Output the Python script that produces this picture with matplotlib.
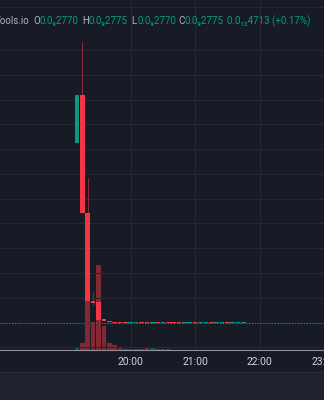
#!/usr/bin/env python3
"""
TradingView-style 5 minute candle chart (dark theme) of a token pump and dump.
Prices are in units of 1e-13, times are minutes after midnight.
"""

import matplotlib.pyplot as plt
import matplotlib.patches as mpatches
from matplotlib.lines import Line2D
from matplotlib.ticker import FuncFormatter
import numpy as np

plt.rcParams['font.family'] = ['Roboto', 'DejaVu Sans']

# ---- data -------------------------------------------------------------
start_minute = 19 * 60 + 10          # first candle 19:10
bar_minutes = 5
n_bars = 32                          # 19:10 ... 21:45

opens = [23086, 28510, 15142, 5266, 5119, 3164, 3006, 2893,
         2780, 2780, 2770, 2770, 2780, 2780, 2770, 2780,
         2770, 2780, 2780, 2780, 2770, 2770, 2780, 2770,
         2770, 2780, 2770, 2770, 2780, 2770, 2770, 2770]
closes = [28510, 15142, 5266, 4972, 3085, 2938, 2859, 2780,
          2770, 2770, 2775, 2775, 2770, 2770, 2775, 2770,
          2775, 2770, 2770, 2770, 2775, 2775, 2770, 2775,
          2775, 2770, 2775, 2775, 2770, 2775, 2775, 2775]
highs = [28510, 34533, 19165, 6283, 5119, 3164, 3006, 2893,
         2780, 2780, 2775, 2775, 2780, 2780, 2775, 2780,
         2775, 2780, 2780, 2780, 2775, 2775, 2780, 2775,
         2775, 2780, 2775, 2775, 2780, 2775, 2775, 2775]
lows = [23086, 15142, 5266, 4780, 3085, 2938, 2859, 2780,
        2770, 2770, 2770, 2770, 2770, 2770, 2770, 2770,
        2770, 2770, 2770, 2770, 2770, 2770, 2770, 2770,
        2770, 2770, 2770, 2770, 2770, 2770, 2770, 2770]
volumes = [23, 67, 693, 277, 850, 240, 67, 47,
           20, 8, 6, 10, 15, 20, 20, 12,
           12, 10, 4, 4, 4, 4, 4, 4,
           4, 4, 4, 4, 4, 4, 4, 4]

hour_ticks = [20 * 60, 21 * 60, 22 * 60, 23 * 60]
header_texts = ['Tools.io', 'O', '0.0\u20892770', 'H', '0.0\u20892775',
                'L', '0.0\u20892770', 'C', '0.0\u20892775',
                '0.0\u2081\u20824713 (+0.17%)']
header_kinds = ['label', 'label', 'value', 'label', 'value',
                'label', 'value', 'label', 'value', 'value']

# layout of the header pieces (left edge in px, first one is right aligned)
header_x = [29, 33.5, 39.5, 82.5, 88.5, 131.5, 137.5, 178.5, 184.5, 227]

# ---- colours ----------------------------------------------------------
BG = '#171b26'
BG_LOW = '#1e222d'
GRID = '#242834'
UP = '#089981'
DOWN = '#f23645'
TEXT = '#b2b5be'

times = start_minute + bar_minutes * np.arange(n_bars)
opens = np.array(opens, dtype=float)
closes = np.array(closes, dtype=float)
up = closes >= opens
colors = [UP if u else DOWN for u in up]

fig = plt.figure(figsize=(3.24, 4.0), dpi=100, facecolor=BG_LOW)
# chart + time axis strip background
fig.patches.append(mpatches.Rectangle((0, 28 / 400), 1, 1, transform=fig.transFigure,
                                      color=BG, zorder=-10))
fig.lines.append(Line2D([0, 1], [1 - 372 / 400, 1 - 372 / 400], transform=fig.transFigure,
                        color='#2a2e39', lw=0.8))

ax_vol = fig.add_axes([0, 50 / 400, 1, 350 / 400])
ax = fig.add_axes([0, 50 / 400, 1, 350 / 400], sharex=ax_vol)
ax.set_zorder(ax_vol.get_zorder() + 1)
ax.patch.set_visible(False)
ax_vol.set_facecolor(BG)

# x range: 20:00 sits at 132 px, 65 px per hour
px_per_min = 65.2 / 60
ax.set_xlim(1200 - 132.3 / px_per_min, 1200 + 191.7 / px_per_min)

# price range
ax.set_ylim(-305, 39245)
ax_vol.set_ylim(0, 3500)

# grid
for p in range(0, 33601, 2800):
    ax.axhline(p, color=GRID, lw=0.8, zorder=0)
for t in hour_ticks:
    ax.axvline(t, color=GRID, lw=0.8, zorder=0)
fig.lines.append(Line2D([0, 1], [1 - 7 / 400, 1 - 7 / 400], transform=fig.transFigure,
                        color=GRID, lw=0.8))

# volume
ax_vol.bar(times, volumes, width=4.3, color=colors, alpha=0.5, linewidth=0)

# candles
min_body = 100
body_bottom = np.minimum(opens, closes)
body_height = np.maximum(np.abs(closes - opens), min_body)
ax.vlines(times, lows, highs, colors=colors, lw=0.7, alpha=0.55, zorder=2)
ax.bar(times, body_height, bottom=body_bottom, width=4.3, color=colors,
       linewidth=0, zorder=3)

# last price dotted line
ax.axhline(closes[-1], color=UP, lw=0.8, ls=(0, (1, 1.6)), zorder=1)

# time axis
ax.set_xticks(hour_ticks)
ax.xaxis.set_major_formatter(FuncFormatter(lambda v, pos: f'{int(v) // 60:02d}:{int(v) % 60:02d}'))
ax.tick_params(axis='x', length=0, pad=5.2, labelsize=7.5, labelcolor='#d1d4dc')
ax.set_yticks([])
ax_vol.set_yticks([])
for a in (ax, ax_vol):
    for side in ('top', 'left', 'right'):
        a.spines[side].set_visible(False)
ax_vol.spines['bottom'].set_visible(False)
ax.spines['bottom'].set_color('#8f929b')
ax.spines['bottom'].set_linewidth(0.8)
ax_vol.tick_params(axis='x', labelbottom=False, length=0)

# header legend
for i, (text, kind) in enumerate(zip(header_texts, header_kinds)):
    color = TEXT if kind == 'label' else UP
    fig.text(header_x[i] / 324, 1 - 24 / 400, text, color=color, fontsize=7,
             va='baseline', ha='right' if i == 0 else 'left')

fig.savefig('out.png', dpi=100, facecolor=BG_LOW)
plt.close()
